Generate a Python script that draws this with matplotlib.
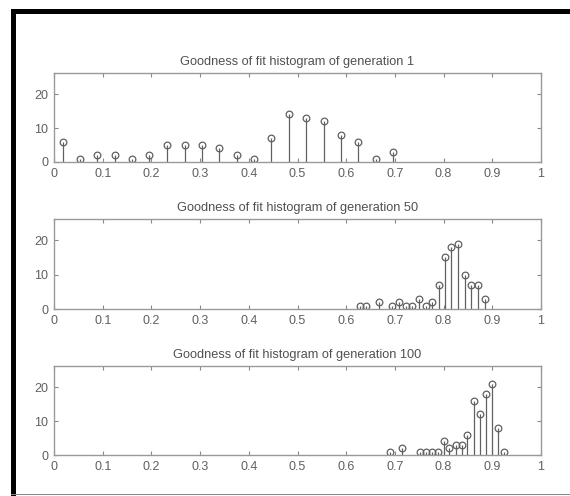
import numpy as np
import matplotlib.pyplot as plt
from matplotlib.patches import Rectangle

# Goodness-of-fit histograms (stem plots) for three generations
gen1_x = [0.018, 0.054, 0.089, 0.125, 0.161, 0.196, 0.232, 0.268, 0.304, 0.339,
          0.375, 0.411, 0.446, 0.482, 0.518, 0.554, 0.589, 0.625, 0.661, 0.696]
gen1_y = [6, 1, 2, 2, 1, 2, 5, 5, 5, 4, 2, 1, 7, 14, 13, 12, 8, 6, 1, 3]

gen50_x = [0.628, 0.641, 0.668, 0.695, 0.709, 0.722, 0.736, 0.749, 0.763, 0.776,
           0.790, 0.803, 0.816, 0.830, 0.843, 0.857, 0.870, 0.884]
gen50_y = [1, 1, 2, 1, 2, 1, 1, 3, 1, 2, 7, 15, 18, 19, 10, 7, 7, 3]

gen100_x = [0.690, 0.714, 0.751, 0.763, 0.776, 0.788, 0.800, 0.812, 0.825, 0.837,
            0.849, 0.862, 0.875, 0.887, 0.899, 0.911, 0.923]
gen100_y = [1, 2, 1, 1, 1, 1, 4, 2, 3, 3, 6, 16, 12, 18, 21, 8, 1]

titles = ['Goodness of fit histogram of generation 1',
          'Goodness of fit histogram of generation 50',
          'Goodness of fit histogram of generation 100']
xticks = [0, 0.1, 0.2, 0.3, 0.4, 0.5, 0.6, 0.7, 0.8, 0.9, 1]
xticklabels = ['0', '0.1', '0.2', '0.3', '0.4', '0.5', '0.6', '0.7', '0.8', '0.9', '1']
yticks = [0, 10, 20]

plt.rcParams['font.family'] = ['Liberation Sans', 'DejaVu Sans']

W, H = 570, 496
fig = plt.figure(figsize=(W / 100, H / 100), dpi=100)
fig.patch.set_facecolor('white')

# black frame around the picture (left and top thick, bottom thin)
fig.add_artist(Rectangle((11 / W, 0), 5 / W, 1 - 9 / H, transform=fig.transFigure,
                         facecolor='black', edgecolor='none'))
fig.add_artist(Rectangle((11 / W, 1 - 14 / H), 1 - 11 / W, 5 / H, transform=fig.transFigure,
                         facecolor='black', edgecolor='none'))
fig.add_artist(Rectangle((11 / W, 1 - 495 / H), 1 - 11 / W, 1.2 / H, transform=fig.transFigure,
                         facecolor='#888888', edgecolor='none'))

# axes boxes: (top, bottom) in pixels
boxes = [(73, 162), (219, 309), (366, 455)]
data = [(gen1_x, gen1_y), (gen50_x, gen50_y), (gen100_x, gen100_y)]

txt_col = '#606060'
for (top, bot), (xs, ys), title in zip(boxes, data, titles):
    ax = fig.add_axes([54 / W, 1 - bot / H, (541 - 54) / W, (bot - top) / H])
    ml, sl, bl = ax.stem(xs, ys, basefmt=' ')
    plt.setp(sl, color='#606060', linewidth=0.9)
    plt.setp(ml, markerfacecolor='none', markeredgecolor='#606060',
             markersize=4.8, markeredgewidth=0.9)
    ax.set_xlim(0, 1)
    ax.set_ylim(0, 26.2)
    ax.set_xticks(xticks)
    ax.set_xticklabels(xticklabels)
    ax.set_yticks(yticks)
    ax.tick_params(direction='in', length=3, width=0.8, color='#888888',
                   top=True, right=True, labelsize=9, labelcolor=txt_col, pad=4)
    for s in ax.spines.values():
        s.set_color('#999999')
        s.set_linewidth(1.0)
    ax.set_title(title, fontsize=9.2, color='#505050', pad=6)

plt.savefig('out.png', dpi=100)
